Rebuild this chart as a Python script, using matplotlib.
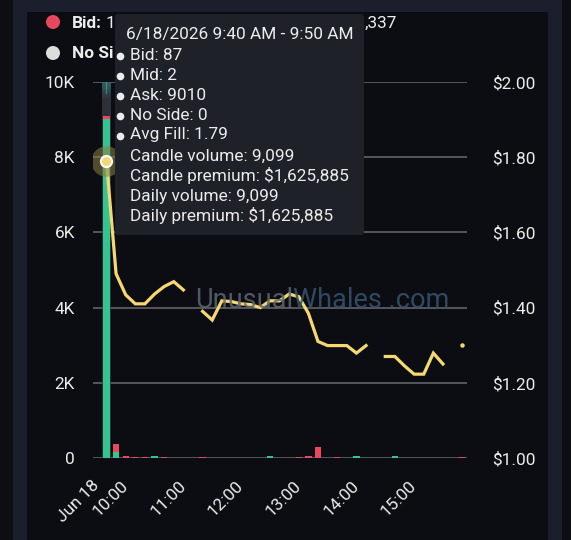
import matplotlib
matplotlib.use("Agg")
import matplotlib.pyplot as plt
import matplotlib.patches as mpatches
from matplotlib.lines import Line2D
import numpy as np

plt.rcParams['font.family'] = ['Roboto', 'DejaVu Sans']

# ---------------- data ----------------
# candle start times (minutes since midnight), 10-minute candles 9:40 .. 15:50
times = list(range(580, 960, 10))
avg_fill = [1.79, 1.49, 1.434, 1.41, 1.41, 1.436, 1.456, 1.469, 1.447, np.nan,
            1.39, 1.367, 1.418, 1.416, 1.41, 1.408, 1.40, 1.418, 1.418, 1.436,
            1.429, 1.385, 1.31, 1.299, 1.299, 1.299, 1.279, 1.299, np.nan,
            1.27, 1.27, 1.245, 1.223, 1.223, 1.279, 1.25, np.nan, 1.30]
ask_vol = [9010, 160, 0, 0, 0, 40, 0, 2, 0, 0,
           0, 2, 2, 2, 2, 2, 2, 40, 2, 2,
           0, 0, 0, 2, 0, 2, 40, 2, 0,
           2, 40, 2, 2, 2, 2, 2, 0, 0]
bid_vol = [87, 210, 40, 30, 30, 0, 30, 0, 3, 0,
           30, 0, 0, 0, 0, 0, 0, 0, 2, 2,
           30, 60, 285, 0, 30, 0, 0, 0, 0,
           0, 0, 0, 0, 0, 0, 0, 0, 30]
mid_vol = [2] + [0] * 37

xtick_pos = [570, 600, 660, 720, 780, 840, 900]
xtick_labels = ["Jun 18", "10:00", "11:00", "12:00", "13:00", "14:00", "15:00"]
ytick_left = [0, 2000, 4000, 6000, 8000, 10000]
ytick_left_labels = ["0", "2K", "4K", "6K", "8K", "10K"]
ytick_right = [1.0, 1.2, 1.4, 1.6, 1.8, 2.0]
ytick_right_labels = ["$1.00", "$1.20", "$1.40", "$1.60", "$1.80", "$2.00"]

tooltip_title = "6/18/2026 9:40 AM - 9:50 AM"
tooltip_bullets = ["Bid: 87", "Mid: 2", "Ask: 9010", "No Side: 0", "Avg Fill: 1.79"]
tooltip_lines = ["Candle volume: 9,099", "Candle premium: $1,625,885",
                 "Daily volume: 9,099", "Daily premium: $1,625,885"]

# ---------------- colors ----------------
BG_OUT = "#0d0e13"
BG_BAND = "#1b1e2c"
BG_CHART = "#0c0d12"
GREEN = "#33c48f"
RED = "#e8475c"
YELLOW = "#f5d873"
GRID = "#56575d"
TXT = "#ececec"
FS = 12.4

W, H = 571, 540
fig = plt.figure(figsize=(W / 100, H / 100), dpi=100, facecolor=BG_OUT)

def px(x0, y0, w, h):
    # convert image pixel box (top-left origin) to figure fraction
    return [x0 / W, 1 - (y0 + h) / H, w / W, h / H]

# background panels
fig.patches.append(mpatches.Rectangle((13 / W, 0), (562 - 13) / W, 1, transform=fig.transFigure,
                                      facecolor=BG_BAND, edgecolor='none', zorder=-5))
fig.patches.append(mpatches.Rectangle((27 / W, 0), (548 - 27) / W, (540 - 12) / H, transform=fig.transFigure,
                                      facecolor=BG_CHART, edgecolor='none', zorder=-4))

ax = fig.add_axes(px(93, 82, 374, 376))
ax.set_facecolor('none')
ax.set_xlim(566, 955)
ax.set_ylim(0, 10000)
for s in ax.spines.values():
    s.set_visible(False)

# grid lines
for yv in ytick_left:
    ax.axhline(yv, color=GRID, lw=1.4, zorder=1)

# hover band
ax.bar(times[0], 10000, width=9.6, color="#3a3c44", alpha=0.75, zorder=1.5, align='center', lw=0)
for i, a in enumerate(np.linspace(0.55, 0.0, 8)):
    ax.bar(times[0], 60, bottom=10000 - 60 * (i + 1), width=9.6, color="#2a8a86", alpha=a, zorder=1.6, lw=0)
ax.plot([times[0], times[0]], [9700, 10000], color="#8aa", lw=0.8, alpha=0.5, zorder=1.7)

ask_arr = np.array(ask_vol, float)
bid_arr = np.array(bid_vol, float)
mid_arr = np.array(mid_vol, float)
BW = 6.6
ax.bar(times, ask_arr, width=BW, color=GREEN, zorder=2, lw=0)
ax.bar(times, mid_arr, bottom=ask_arr, width=BW, color="#bbbbbb", zorder=2, lw=0)
ax.bar(times, bid_arr, bottom=ask_arr + mid_arr, width=BW, color=RED, zorder=2, lw=0)

ax.set_xticks(xtick_pos)
ax.set_xticklabels(xtick_labels, rotation=45, ha='right', va='center', rotation_mode='anchor')
ax.tick_params(axis='x', length=0, pad=18, labelsize=FS, labelcolor=TXT)
ax.set_yticks(ytick_left)
ax.set_yticklabels(ytick_left_labels)
ax.tick_params(axis='y', length=0, pad=13, labelsize=FS, labelcolor=TXT)

ax2 = ax.twinx()
ax2.set_ylim(1.0, 2.0)
for s in ax2.spines.values():
    s.set_visible(False)
ax2.set_yticks(ytick_right)
ax2.set_yticklabels(ytick_right_labels)
ax2.tick_params(axis='y', length=0, pad=18, labelsize=FS, labelcolor=TXT)

ax2.plot(times, avg_fill, color=YELLOW, lw=2.3, zorder=3, solid_joinstyle='miter')
ax2.plot(times[-1], avg_fill[-1], 'o', color=YELLOW, ms=2.2, zorder=3)
# hover marker
ax2.plot(times[0], avg_fill[0], 'o', ms=22, color="#8a7d45", alpha=0.55, mec='none', zorder=4)
ax2.plot(times[0], avg_fill[0], 'o', ms=8, color=YELLOW, mec='white', mew=1.5, zorder=5)

# watermark
renderer = fig.canvas.get_renderer()
wm1 = fig.text(195 / W, 1 - 308 / H, "Unusual", fontsize=19.5, color="#5c6672", alpha=0.85, zorder=2.5)
bb = wm1.get_window_extent(renderer)
fig.text(bb.x1 / W, 1 - 308 / H, "Whales .com", fontsize=19.5, color="#34506a", alpha=0.9, zorder=2.5)

# legend (the visible parts; the rest is covered by the tooltip)
fig.patches.append(mpatches.Ellipse((53 / W, 1 - 22 / H), 14 / W, 14 / H, transform=fig.transFigure,
                                    facecolor=RED, edgecolor='none', zorder=5))
fig.patches.append(mpatches.Ellipse((53 / W, 1 - 53 / H), 14 / W, 14 / H, transform=fig.transFigure,
                                    facecolor="#dddddd", edgecolor='none', zorder=5))
fig.text(72 / W, 1 - 23 / H, "Bid:", fontsize=FS, fontweight='bold', color=TXT, va='center', zorder=5)
fig.text(106 / W, 1 - 23 / H, "1", fontsize=FS, color=TXT, va='center', zorder=5)
fig.text(397 / W, 1 - 23 / H, ",337", fontsize=FS, color=TXT, va='center', ha='right', zorder=5)
fig.text(72 / W, 1 - 54 / H, "No Si", fontsize=FS, fontweight='bold', color=TXT, va='center', zorder=5)

# tooltip
fig.patches.append(mpatches.FancyBboxPatch((115 / W, 1 - 235 / H), (364 - 115) / W, (235 - 14) / H,
                                           boxstyle="round,pad=0,rounding_size=0.006",
                                           transform=fig.transFigure, facecolor="#1f2128",
                                           edgecolor='none', zorder=10))
fig.text(126 / W, 1 - 34 / H, tooltip_title, fontsize=FS, color=TXT, va='center', zorder=11)
yy = 55
for t in tooltip_bullets:
    fig.lines.append(Line2D([119.5 / W], [1 - (yy + 0.5) / H], marker='o', ms=5.5, color=TXT,
                            mec='none', transform=fig.transFigure, zorder=11))
    fig.text(130 / W, 1 - yy / H, t, fontsize=FS, color=TXT, va='center', zorder=11)
    yy += 20
for t in tooltip_lines:
    fig.text(130 / W, 1 - (yy + 1) / H, t, fontsize=FS, color=TXT, va='center', zorder=11)
    yy += 20

fig.savefig("out.png", dpi=100, facecolor=fig.get_facecolor())
